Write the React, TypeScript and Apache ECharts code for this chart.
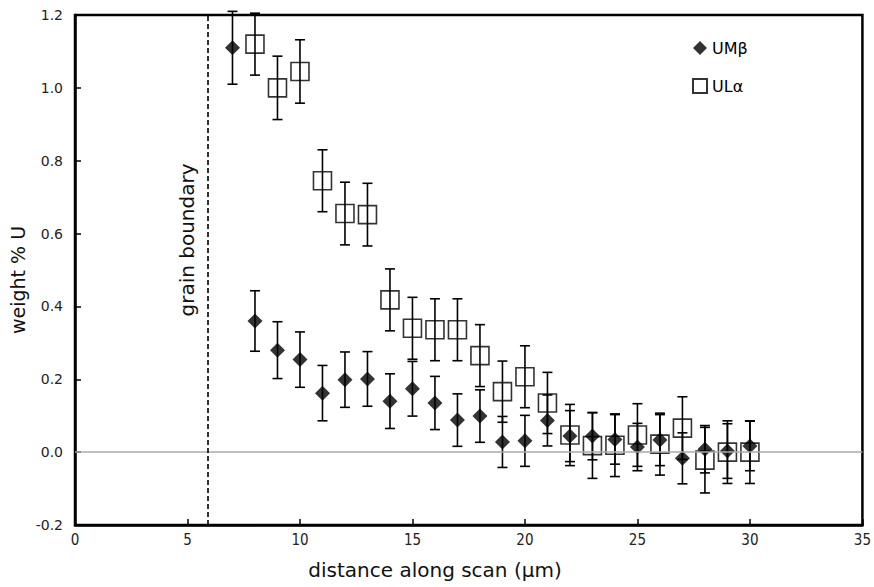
import React, { useEffect, useRef } from "react";
import * as echarts from "echarts";

const umX = [7, 8, 9, 10, 11, 12, 13, 14, 15, 16, 17, 18, 19, 20, 21, 22, 23, 24, 25, 26, 27, 28, 29, 30];
const umY = [1.11, 0.36, 0.28, 0.254, 0.162, 0.199, 0.201, 0.14, 0.174, 0.135, 0.088, 0.099, 0.028, 0.031, 0.087, 0.044, 0.044, 0.035, 0.014, 0.033, -0.017, 0.008, 0.003, 0.017];
const umErr = [0.1, 0.083, 0.078, 0.076, 0.076, 0.076, 0.075, 0.075, 0.075, 0.073, 0.072, 0.072, 0.07, 0.07, 0.07, 0.07, 0.065, 0.068, 0.065, 0.07, 0.07, 0.065, 0.075, 0.068];

const ulX = [8, 9, 10, 11, 12, 13, 14, 15, 16, 17, 18, 19, 20, 21, 22, 23, 24, 25, 26, 27, 28, 29, 30];
const ulY = [1.12, 1.0, 1.045, 0.745, 0.655, 0.652, 0.418, 0.34, 0.336, 0.336, 0.265, 0.166, 0.207, 0.135, 0.047, 0.018, 0.019, 0.047, 0.022, 0.066, -0.022, 0.0, 0.0];
const ulErr = [0.085, 0.087, 0.087, 0.085, 0.086, 0.086, 0.085, 0.085, 0.085, 0.085, 0.085, 0.084, 0.085, 0.084, 0.084, 0.09, 0.086, 0.086, 0.085, 0.086, 0.09, 0.086, 0.086];

const seriesNames = ["UMβ", "ULα"];
const grainBoundaryX = 5.9;
const xTicks = { min: 0, max: 35, interval: 5 };
const yTicks = { min: -0.2, max: 1.2, interval: 0.2 };
const xTitle = "distance along scan (µm)";
const yTitle = "weight % U";
const boundaryLabel = "grain boundary";

const errRender = (params: any, api: any) => {
  const x = api.value(0);
  const y = api.value(1);
  const e = api.value(2);
  const top = api.coord([x, y + e]);
  const bot = api.coord([x, y - e]);
  const hw = 5;
  const st = { stroke: "#000", lineWidth: 1.6 };
  return {
    type: "group",
    children: [
      { type: "line", shape: { x1: top[0], y1: top[1], x2: bot[0], y2: bot[1] }, style: st },
      { type: "line", shape: { x1: top[0] - hw, y1: top[1], x2: top[0] + hw, y2: top[1] }, style: st },
      { type: "line", shape: { x1: bot[0] - hw, y1: bot[1], x2: bot[0] + hw, y2: bot[1] }, style: st },
    ],
  };
};

export default function App() {
  const ref = useRef<HTMLDivElement>(null);
  useEffect(() => {
    if (!ref.current) return;
    const chart = echarts.init(ref.current, null, { renderer: "svg" });
    const umData = umX.map((x, i) => [x, umY[i], umErr[i]]);
    const ulData = ulX.map((x, i) => [x, ulY[i], ulErr[i]]);
    chart.setOption({
      animation: false,
      backgroundColor: "#fff",
      grid: {
        left: 75,
        right: 9,
        top: 15,
        bottom: 62,
        show: true,
        borderColor: "#000",
        borderWidth: 2.5,
        backgroundColor: "transparent",
      },
      legend: {
        data: seriesNames,
        orient: "vertical",
        left: 687,
        top: 35,
        itemGap: 22,
        itemWidth: 14,
        itemHeight: 14,
        textStyle: { fontFamily: "DejaVu Sans", fontSize: 16, color: "#000" },
      },
      xAxis: {
        type: "value",
        min: xTicks.min,
        max: xTicks.max,
        interval: xTicks.interval,
        axisLine: { show: true, onZero: false, lineStyle: { color: "#000", width: 2.5 } },
        axisTick: { show: true, inside: true, length: 6, lineStyle: { color: "#000", width: 1.5 } },
        axisLabel: { fontFamily: "DejaVu Sans Condensed, DejaVu Sans", fontSize: 15, color: "#222", margin: 7 },
        splitLine: { show: false },
      },
      yAxis: {
        type: "value",
        min: yTicks.min,
        max: yTicks.max,
        interval: yTicks.interval,
        axisLine: { show: true, onZero: false, lineStyle: { color: "#000", width: 2.5 } },
        axisTick: { show: true, inside: true, length: 6, lineStyle: { color: "#000", width: 1.5 } },
        axisLabel: {
          fontFamily: "DejaVu Sans",
          fontSize: 14,
          color: "#222",
          margin: 12,
          formatter: (v: number) => v.toFixed(1),
        },
        splitLine: { show: false },
      },
      graphic: [
        {
          type: "text",
          x: 187,
          y: 240,
          rotation: Math.PI / 2,
          style: {
            text: boundaryLabel,
            fontFamily: "DejaVu Sans",
            fontSize: 20,
            fill: "#111",
            align: "center",
            verticalAlign: "middle",
          },
        },
        {
          type: "text",
          x: 18,
          y: 280,
          rotation: Math.PI / 2,
          style: {
            text: yTitle,
            fontFamily: "DejaVu Sans",
            fontSize: 19,
            fill: "#111",
            align: "center",
            verticalAlign: "middle",
          },
        },
        {
          type: "text",
          x: 435,
          y: 570,
          style: {
            text: xTitle,
            fontFamily: "DejaVu Sans",
            fontSize: 20,
            fill: "#111",
            align: "center",
            verticalAlign: "middle",
          },
        },
      ],
      series: [
        {
          type: "custom",
          name: "errUM",
          renderItem: errRender,
          data: umData,
          encode: { x: 0, y: 1 },
          clip: false,
          z: 2,
          silent: true,
          markLine: {
            silent: true,
            symbol: "none",
            label: { show: false },
            data: [
              { yAxis: 0, lineStyle: { color: "#aaa", width: 1.5, type: "solid" } },
              { xAxis: grainBoundaryX, lineStyle: { color: "#000", width: 1.6, type: [5, 3] } },
            ],
          },
        },
        {
          type: "custom",
          name: "errUL",
          renderItem: errRender,
          data: ulData,
          encode: { x: 0, y: 1 },
          clip: false,
          z: 2,
          silent: true,
        },
        {
          type: "scatter",
          name: seriesNames[1],
          symbol: "rect",
          symbolSize: 18,
          data: ulData.map((d) => [d[0], d[1]]),
          itemStyle: { color: "rgba(255,255,255,0)", borderColor: "#000", borderWidth: 1.6 },
          z: 3,
        },
        {
          type: "scatter",
          name: seriesNames[0],
          symbol: "diamond",
          symbolSize: 15,
          data: umData.map((d) => [d[0], d[1]]),
          itemStyle: { color: "#000" },
          z: 4,
        },
      ],
    });
    return () => chart.dispose();
  }, []);
  return <div ref={ref} style={{ width: 874, height: 587, position: "absolute", left: 0, top: 0 }} />;
}
